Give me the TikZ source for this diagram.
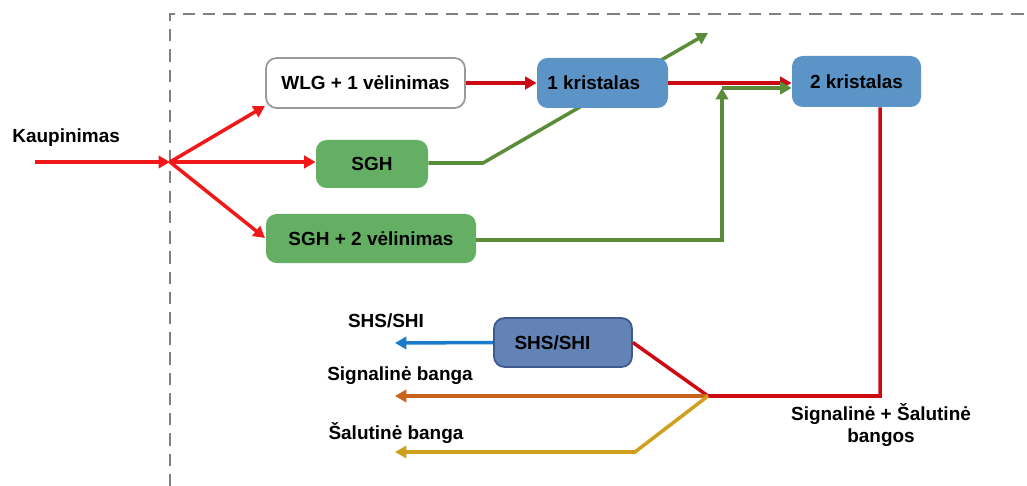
\documentclass[tikz,border=0pt]{standalone}
\usepackage{fontspec}
\setmainfont{Liberation Sans}
\usetikzlibrary{arrows.meta}
\definecolor{redA}{HTML}{F01818}
\definecolor{redB}{HTML}{CC0A14}
\definecolor{grnL}{HTML}{5B8C3A}
\definecolor{grnB}{HTML}{64AF64}
\definecolor{bluB}{HTML}{5D94C8}
\definecolor{shsB}{HTML}{6382B6}
\definecolor{shsD}{HTML}{3D5A8A}
\definecolor{bluL}{HTML}{1C7ACB}
\definecolor{orgL}{HTML}{C8641E}
\definecolor{gldL}{HTML}{CFA01E}
\definecolor{frameC}{HTML}{808080}
\tikzset{
  box/.style={rounded corners=6pt, font=\bfseries\fontsize{10.8}{13}\selectfont, inner sep=0pt},
  lbl/.style={font=\bfseries\fontsize{10.8}{13}\selectfont, inner sep=0pt},
  ln/.style={line width=2pt},
  arr/.style={ln, -{Triangle[length=6.5pt,width=7pt]}},
}
\begin{document}
\begin{tikzpicture}[x=0.02cm,y=-0.02cm]
\useasboundingbox (0,0) rectangle (1027,486);
% dashed frame
\draw[line width=1.4pt, color=frameC, dash pattern=on 7pt off 4.5pt] (170,486) -- (170,14) -- (1030,14);
% nodes
\node[box, draw=black!40, line width=1pt, fill=white, minimum width=199*0.02cm, minimum height=50*0.02cm] (wlg) at (365.5,83) {WLG + 1 vėlinimas};
\node[box, fill=grnB, minimum width=112*0.02cm, minimum height=48*0.02cm] (sgh) at (372,164) {SGH};
\node[box, fill=grnB, minimum width=210*0.02cm, minimum height=49*0.02cm] (sgh2) at (371,238.5) {SGH + 2 vėlinimas};
% labels
\node[lbl, anchor=west] (kaup) at (12,138) {Kaupinimas};
\node[lbl] (lshs) at (386,321) {SHS/SHI};
\node[lbl] (lsig) at (400,376) {Signalinė banga};
\node[lbl] (lsal) at (396,433) {Šalutinė banga};
\node[lbl, align=center, font=\bfseries\fontsize{10.8}{13}\selectfont] (lsum) at (881,425) {Signalinė + Šalutinė\\bangos};
% coordinates
\coordinate (src) at (35,162);
\coordinate (hub) at (170,162);
\coordinate (g1) at (483,163);
\coordinate (gtip) at (708,33);
\coordinate (g2) at (722,240);
\coordinate (g3) at (722,88);
\coordinate (r1) at (880,396);
\coordinate (jn) at (708,396);
\coordinate (y1) at (635,452);
\coordinate (eshs) at (395,343);
\coordinate (esig) at (395,396);
\coordinate (esal) at (395,452);
% green line from SGH (passes behind crystal 1)
\draw[arr, grnL] (sgh.east |- g1) -- (g1) -- (gtip);
% crystals and SHS box on top
\node[box, fill=bluB, minimum width=131*0.02cm, minimum height=50*0.02cm] (k1) at (602.5,83) {\hspace*{-10pt}1 kristalas};
\node[box, fill=bluB, minimum width=129*0.02cm, minimum height=51*0.02cm] (k2) at (856.5,81.5) {2 kristalas};
\node[box, fill=shsB, draw=shsD, line width=1pt, minimum width=138*0.02cm, minimum height=49*0.02cm] (shs) at (563,342.5) {\hspace*{-12pt}SHS/SHI};
% red inputs
\draw[arr, redA] (src) -- (hub);
\draw[arr, redA] (hub) -- (265,106);
\draw[arr, redA] (hub) -- (sgh.west |- hub);
\draw[arr, redA] (hub) -- (265,238);
\draw[arr, redB] (wlg.east) -- (k1.west);
\draw[arr, redB] (k1.east) -- (k2.west |- k1.east);
% green from SGH+2
\draw[arr, grnL] (sgh2.east |- g2) -- (g2) -- (g3);
\draw[arr, grnL] (g3) -- (k2.west |- g3);
% red from crystal 2
\draw[ln, redB] (k2.south -| r1) -- (r1) -- (jn) -- (shs.east);
% outputs
\draw[arr, bluL] (shs.west) -- (eshs);
\draw[arr, orgL] (jn) -- (esig);
\draw[arr, gldL] (jn) -- (y1) -- (esal);
\end{tikzpicture}
\end{document}
